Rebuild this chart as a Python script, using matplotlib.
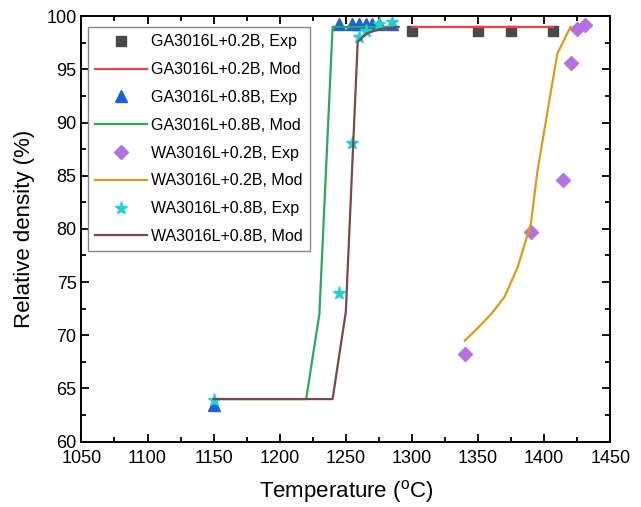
import matplotlib.pyplot as plt
from matplotlib.ticker import MultipleLocator

plt.rcParams['font.family'] = ['Liberation Sans', 'DejaVu Sans']
plt.rcParams['mathtext.fontset'] = 'custom'
plt.rcParams['mathtext.rm'] = 'Liberation Sans'

# GA3016L+0.2B
ga02_exp_t = [1300, 1350, 1375, 1407]
ga02_exp_d = [98.6, 98.6, 98.6, 98.6]
ga02_mod_t = [1300, 1407]
ga02_mod_d = [99.0, 99.0]

# GA3016L+0.8B
ga08_exp_t = [1150, 1245, 1255, 1260, 1265, 1270, 1275, 1285]
ga08_exp_d = [63.4, 99.3, 99.3, 99.3, 99.3, 99.3, 99.3, 99.3]
ga08_mod_t = [1150, 1220, 1230, 1240, 1285]
ga08_mod_d = [64.0, 64.0, 72.0, 99.0, 99.0]

# WA3016L+0.2B
wa02_exp_t = [1340, 1390, 1414, 1420, 1425, 1431]
wa02_exp_d = [68.2, 79.7, 84.6, 95.6, 98.8, 99.15]
wa02_mod_t = [1340, 1350, 1360, 1370, 1380, 1390, 1395, 1410, 1420]
wa02_mod_d = [69.5, 70.7, 72.0, 73.6, 76.4, 80.5, 85.5, 96.5, 99.0]

# WA3016L+0.8B
wa08_exp_t = [1150, 1245, 1255, 1260, 1265, 1275, 1285]
wa08_exp_d = [63.9, 74.0, 88.1, 98.0, 98.6, 99.3, 99.5]
wa08_mod_t = [1150, 1240, 1250, 1259, 1266, 1276, 1290]
wa08_mod_d = [64.0, 64.0, 72.2, 97.6, 98.4, 98.8, 99.0]

fig = plt.figure(figsize=(6.41, 5.07), dpi=100)
ax = fig.add_axes([0.127, 0.129, 0.825, 0.839])

ax.plot(ga02_exp_t, ga02_exp_d, 's', color='#4a4a4a', ms=7.5, ls='none', label='GA3016L+0.2B, Exp')
ax.plot(ga02_mod_t, ga02_mod_d, '-', color='#f04040', lw=1.6, label='GA3016L+0.2B, Mod')
ax.plot(ga08_exp_t, ga08_exp_d, '^', color='#1c62d6', ms=8.5, ls='none', label='GA3016L+0.8B, Exp')
ax.plot(ga08_mod_t, ga08_mod_d, '-', color='#2aa860', lw=1.6, label='GA3016L+0.8B, Mod')
ax.plot(wa02_exp_t, wa02_exp_d, 'D', color='#b472e0', ms=7, ls='none', label='WA3016L+0.2B, Exp')
ax.plot(wa02_mod_t, wa02_mod_d, '-', color='#d6a010', lw=1.6, label='WA3016L+0.2B, Mod')
ax.plot(wa08_exp_t, wa08_exp_d, '*', color='#1ed2d2', ms=9.5, ls='none', label='WA3016L+0.8B, Exp')
ax.plot(wa08_mod_t, wa08_mod_d, '-', color='#7a4848', lw=1.6, label='WA3016L+0.8B, Mod')

ax.set_xlim(1050, 1450)
ax.set_ylim(60, 100)
ax.xaxis.set_major_locator(MultipleLocator(50))
ax.xaxis.set_minor_locator(MultipleLocator(25))
ax.yaxis.set_major_locator(MultipleLocator(5))
ax.yaxis.set_minor_locator(MultipleLocator(2.5))
ax.tick_params(which='both', direction='in', top=True, right=True, width=1.3, labelsize=13)
ax.tick_params(which='major', length=6)
ax.tick_params(which='minor', length=3.5)
ax.tick_params(axis='x', pad=6)
for s in ax.spines.values():
    s.set_linewidth(1.4)

ax.set_xlabel(r'Temperature ($^{\rm o}$C)', fontsize=16, labelpad=8)
ax.set_ylabel('Relative density (%)', fontsize=16, labelpad=8)

leg = ax.legend(loc='upper left', bbox_to_anchor=(0.013, 0.974), fontsize=11.5,
                fancybox=False, edgecolor='#888888', framealpha=1, borderaxespad=0,
                handlelength=3.2, labelspacing=0.8, borderpad=0.45, handletextpad=0.3)
leg.get_frame().set_linewidth(1.0)

fig.savefig('out.png', dpi=100)
